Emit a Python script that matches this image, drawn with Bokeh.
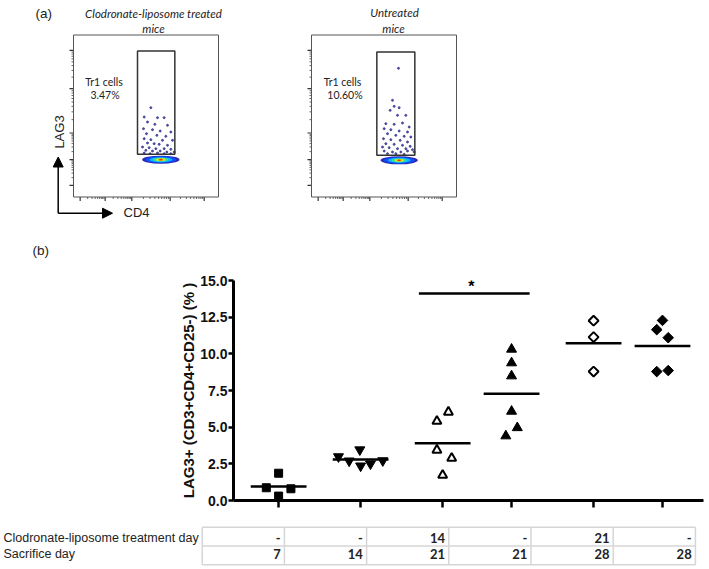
import numpy as np
from bokeh.plotting import figure
from bokeh.models import (Range1d, FixedTicker, Label, Arrow, NormalHead, NumeralTickFormatter,
                          CustomLabelingPolicy)
from bokeh.layouts import column
from bokeh.embed import file_html
from bokeh.resources import INLINE
from bokeh.core.properties import value

W = 709

# ---------------- panel (a): flow cytometry (channel units) ----------------
left_title = ["Clodronate-liposome treated", "mice"]
right_title = ["Untreated", "mice"]
left_pct = "3.47%"
right_pct = "10.60%"

left_dots_x = [232, 212, 252, 272, 222, 244, 282, 210, 237, 260, 292, 219, 250, 277, 212, 232, 267, 297,
               222, 242, 257, 282, 207, 227, 247, 272, 292, 217, 237, 260, 280, 302, 212, 230, 252, 272, 292]
left_dots_y = [268, 240, 238, 238, 225, 218, 215, 205, 202, 198, 195, 190, 185, 182, 175, 172, 170, 170,
               162, 160, 158, 155, 150, 148, 145, 145, 143, 140, 138, 138, 135, 135, 132, 130, 132, 130, 130]
right_dots_x = [261, 243, 248, 263, 236, 258, 283, 223, 248, 273, 293, 218, 238, 263, 288, 228, 253, 278, 298,
                216, 238, 266, 288, 223, 248, 273, 296, 213, 233, 258, 283, 303, 218, 243, 268, 288, 308, 228, 253, 278]
right_dots_y = [386, 290, 272, 268, 260, 245, 245, 220, 218, 222, 210, 205, 202, 198, 195, 190, 185, 182, 180,
                175, 172, 170, 165, 160, 158, 155, 152, 150, 148, 145, 145, 142, 138, 135, 135, 138, 135, 130, 130, 128]
left_gate = (192, 304, 128, 438)
right_gate = (196, 310, 125, 435)
left_core = (262, 112)
right_core = (263, 110)
core_w = [112, 92, 68, 46, 28, 12]
core_h = [24, 20, 15, 11, 8, 5]
core_colors = ["#2a2ab4", "#0a50ff", "#12b4ff", "#30e6a0", "#d2ee10", "#ff2a00"]

axis_major_x = [20, 95, 175, 290, 392]
axis_major_y = [35, 112, 192, 325, 440]

# geometry of panel (a) (pixels) and channel scale
H1 = 270
BOX_LEFT = [73, 311]
BOX_BOTTOM = 196.5
CH_PER_PX = 3.0
BOX_W_CH, BOX_H_CH = 435, 486


def log_minors(majors):
    out = []
    for a, b in zip(majors[:-1], majors[1:]):
        out += [a + (b - a) * np.log10(k) for k in range(2, 10)]
    return out


fa = figure(width=W, height=H1, x_range=Range1d(0, W), y_range=Range1d(H1, 0), title=None,
            x_axis_location=None, y_axis_location=None, output_backend="svg", toolbar_location=None,
            min_border=0, frame_align=False)
fa.xgrid.visible = False
fa.ygrid.visible = False
fa.outline_line_color = None
fa.extra_x_ranges = {
    "f1x": Range1d(-BOX_LEFT[0] * CH_PER_PX, (W - BOX_LEFT[0]) * CH_PER_PX),
    "f2x": Range1d(-BOX_LEFT[1] * CH_PER_PX, (W - BOX_LEFT[1]) * CH_PER_PX),
}
fa.extra_y_ranges = {"fy": Range1d(-(H1 - BOX_BOTTOM) * CH_PER_PX, BOX_BOTTOM * CH_PER_PX)}

panels = [
    ("f1x", left_dots_x, left_dots_y, left_gate, left_core),
    ("f2x", right_dots_x, right_dots_y, right_gate, right_core),
]
xmin = log_minors(axis_major_x)
ymin = log_minors(axis_major_y)
for xr, dx, dy, gate, core in panels:
    kw = dict(x_range_name=xr, y_range_name="fy")
    # ticks (outside, left and bottom)
    fa.segment(x0=[0] * len(axis_major_y), y0=axis_major_y, x1=[-12] * len(axis_major_y), y1=axis_major_y,
               line_color="#333333", line_width=1.2, **kw)
    fa.segment(x0=[0] * len(ymin), y0=ymin, x1=[-6] * len(ymin), y1=ymin,
               line_color="#666666", line_width=1, **kw)
    fa.segment(x0=axis_major_x, y0=[0] * len(axis_major_x), x1=axis_major_x, y1=[-12] * len(axis_major_x),
               line_color="#333333", line_width=1.2, **kw)
    fa.segment(x0=xmin, y0=[0] * len(xmin), x1=xmin, y1=[-6] * len(xmin),
               line_color="#666666", line_width=1, **kw)
    # plot box
    fa.quad(left=[0], right=[BOX_W_CH], bottom=[0], top=[BOX_H_CH], fill_color=None,
            line_color="#555555", line_width=1, **kw)
    # density core + events + gate
    fa.ellipse(x=[core[0]] * len(core_w), y=[core[1]] * len(core_w), width=core_w, height=core_h,
               fill_color=core_colors, line_color=None, **kw)
    fa.scatter(dx, dy, size=2, marker="circle", color="#303090", alpha=0.8, **kw)
    fa.quad(left=[gate[0]], right=[gate[1]], bottom=[gate[2]], top=[gate[3]],
            fill_color=None, line_color="#333333", line_width=1.5, **kw)


def txt(fig, x, y, s, size, align="center", style="normal", font="Lato", angle=0, color="#222222"):
    fig.add_layout(Label(x=x, y=y, text=s, text_align=align, text_baseline="middle", angle=angle,
                         text_font=font, text_font_style=style, text_font_size=size, text_color=color))


txt(fa, 35, 13, "(a)", "13.5px", align="left", font="Liberation Sans")
txt(fa, 153, 13, left_title[0], "11.5px", style="italic")
txt(fa, 153, 28, left_title[1], "11.5px", style="italic")
txt(fa, 394, 12, right_title[0], "11.5px", style="italic")
txt(fa, 393, 27.5, right_title[1], "11.5px", style="italic")
txt(fa, 103.5, 81, "Tr1 cells", "10.5px")
txt(fa, 104.5, 94.5, left_pct, "10.5px")
txt(fa, 342, 81, "Tr1 cells", "10.5px")
txt(fa, 344.5, 94.5, right_pct, "10.5px")
txt(fa, 58.5, 131.5, "LAG3", "13px", font="Liberation Sans", angle=np.pi / 2)
txt(fa, 123, 212, "CD4", "13px", align="left", font="Liberation Sans")
fa.add_layout(Arrow(end=NormalHead(size=10, fill_color="black", line_color="black"),
                    x_start=57.7, y_start=212.7, x_end=57.7, y_end=156.5, line_width=1.5, line_color="black"))
fa.add_layout(Arrow(end=NormalHead(size=10, fill_color="black", line_color="black"),
                    x_start=57.7, y_start=212.7, x_end=112, y_end=212.7, line_width=1.5, line_color="black"))
txt(fa, 32, 250, "(b)", "13.5px", align="left", font="Liberation Sans")

# ---------------- panel (b): scatter of LAG3+ percentages ----------------
x_pos = [1, 2, 3, 3.84, 4.84, 5.68]
g1_vals = [1.86, 0.87, 0.80, 0.30]
g1_dx = [0, -0.15, 0.15, 0]
g2_vals = [2.99, 2.70, 3.46, 2.36, 2.50, 2.72]
g2_dx = [-0.27, -0.14, -0.01, 0, 0.12, 0.27]
g3_vals = [6.03, 5.41, 3.44, 2.88, 1.72]
g3_dx = [0.07, -0.07, -0.07, 0.11, 0]
g4_vals = [10.31, 9.38, 8.49, 6.08, 4.96, 4.40]
g4_dx = [0, 0, 0, 0, 0.07, -0.07]
g5_vals = [12.26, 11.14, 8.79]
g5_dx = [0, 0, 0]
g6_vals = [12.28, 11.65, 11.10, 8.79, 8.86]
g6_dx = [0, -0.07, 0.07, -0.07, 0.07]
y_ticks = [0, 2.5, 5.0, 7.5, 10.0, 12.5, 15.0]

treat_day = ["-", "-", "14", "-", "21", "-"]
sacrifice_day = ["7", "14", "21", "21", "28", "28"]
row_labels = ["Clodronate-liposome treatment day", "Sacrifice day"]

p = figure(width=W, height=248, x_range=Range1d(0.45, 6.18), y_range=Range1d(0, 15), title=None,
           output_backend="svg", toolbar_location=None, frame_align=False,
           min_border_left=233, min_border_right=6, min_border_top=10, min_border_bottom=14)
p.xgrid.visible = False
p.ygrid.visible = False
p.outline_line_color = None

p.yaxis.ticker = FixedTicker(ticks=y_ticks)
p.yaxis.formatter = NumeralTickFormatter(format="0.0")
p.yaxis.minor_tick_line_color = None
p.yaxis.major_label_text_font = "Liberation Sans"
p.yaxis.major_label_text_font_style = "bold"
p.yaxis.major_label_text_font_size = "14px"
p.yaxis.major_label_text_color = "#111111"
p.yaxis.major_label_standoff = 1
p.yaxis.axis_label = "LAG3+ (CD3+CD4+CD25-) (% )"
p.yaxis.axis_label_text_font = "Liberation Sans"
p.yaxis.axis_label_text_font_style = "bold"
p.yaxis.axis_label_text_font_size = "15px"
p.yaxis.axis_label_text_color = "#111111"
p.yaxis.axis_label_standoff = 0
p.xaxis.ticker = FixedTicker(ticks=x_pos)
p.xaxis.major_label_policy = CustomLabelingPolicy(code="""
for (const i of indices)
    indices.unset(i)
return indices
""")
p.xaxis.major_label_standoff = 0
p.xaxis.minor_tick_line_color = None
for ax in (p.xaxis, p.yaxis):
    ax.axis_line_width = 3
    ax.axis_line_color = "black"
    ax.major_tick_line_width = 2.5
    ax.major_tick_line_color = "black"
    ax.major_tick_in = 0
p.yaxis.major_tick_out = 5
p.xaxis.major_tick_out = 7

groups = [
    (g1_vals, g1_dx, dict(marker="square", size=8, fill_color="black", line_color="black")),
    (g2_vals, g2_dx, dict(marker="inverted_triangle", size=10, fill_color="black", line_color="black")),
    (g3_vals, g3_dx, dict(marker="triangle", size=9, fill_color="white", line_color="black", line_width=2)),
    (g4_vals, g4_dx, dict(marker="triangle", size=10, fill_color="black", line_color="black")),
    (g5_vals, g5_dx, dict(marker="square", angle=np.pi / 4, size=7, fill_color="white", line_color="black",
                          line_width=2)),
    (g6_vals, g6_dx, dict(marker="square", angle=np.pi / 4, size=7.5, fill_color="black", line_color="black")),
]
for xc, (vals, dxs, style) in zip(x_pos, groups):
    p.scatter([xc + d for d in dxs], vals, **style)
    m = float(np.mean(vals))
    p.segment(x0=[xc - 0.34], y0=[m], x1=[xc + 0.34], y1=[m], line_width=2.5, line_color="black")

# significance bar between groups 3 and 4
p.segment(x0=[2.71], y0=[14.11], x1=[4.06], y1=[14.11], line_width=2.5, line_color="black")
p.add_layout(Label(x=3.35, y=14.62, text="*", text_align="center", text_baseline="middle",
                   text_font="Liberation Sans", text_font_style="bold", text_font_size="16px",
                   text_color="black"))

# ---------------- table below panel (b) ----------------
T_TOP = 518            # figure top (px)
T_H = 51               # figure height (px)
COL0_PX, COL_W = 201.7, 82.2      # left edge of table and column width (px)
ROW2_PX, ROW_H = 526.7, 18.8      # top line of table and row height (px)
t = figure(width=W, height=T_H, title=None, x_axis_location=None, y_axis_location=None,
           x_range=Range1d(-COL0_PX / COL_W, (W - COL0_PX) / COL_W),
           y_range=Range1d(2 - (T_TOP + T_H - ROW2_PX) / ROW_H, 2 + (ROW2_PX - T_TOP) / ROW_H),
           output_backend="svg", toolbar_location=None, min_border=0, frame_align=False)
t.xgrid.visible = False
t.ygrid.visible = False
t.outline_line_color = None
ncol = len(treat_day)
t.multi_line(xs=[[0, ncol]] * 3 + [[i, i] for i in range(ncol + 1)],
             ys=[[0, 0], [1, 1], [2, 2]] + [[0, 2]] * (ncol + 1),
             line_color="#d6d6d6", line_width=1.5)
cell_x = [i + 1 - 0.045 for i in range(ncol)]
t.text(x=cell_x, y=[1.42] * ncol, text=treat_day, text_align="right", text_baseline="middle",
       text_font=value("Lato"), text_font_size="13px", text_font_style="bold", text_color="#222222")
t.text(x=cell_x, y=[0.55] * ncol, text=sacrifice_day, text_align="right", text_baseline="middle",
       text_font=value("Lato"), text_font_size="13px", text_font_style="bold", text_color="#222222")
lab_x = (3 - COL0_PX) / COL_W
t.add_layout(Label(x=lab_x, y=1.42, text=row_labels[0], text_baseline="middle",
                   text_font="Liberation Sans", text_font_size="12.5px", text_color="#222222"))
t.add_layout(Label(x=lab_x, y=0.55, text=row_labels[1], text_baseline="middle",
                   text_font="Liberation Sans", text_font_size="12.5px", text_color="#222222"))

layout = column(fa, p, t)
open("out.html", "w").write(file_html(layout, INLINE))
